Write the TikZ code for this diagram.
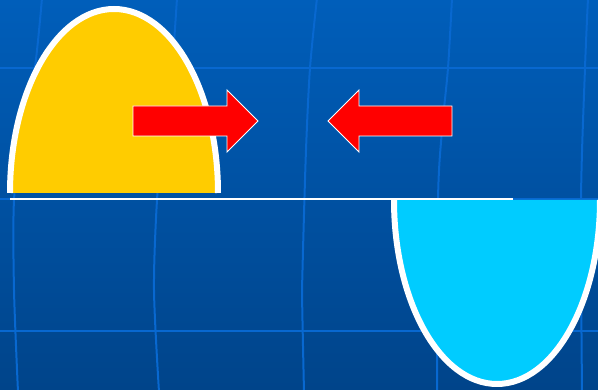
\documentclass[tikz,border=0pt]{standalone}
\usetikzlibrary{shadings}
\definecolor{bgtop}{RGB}{0,94,186}
\definecolor{bgbot}{RGB}{0,68,138}
\definecolor{gridc}{RGB}{8,104,208}
\definecolor{yel}{RGB}{255,204,0}
\definecolor{cya}{RGB}{0,204,255}
\definecolor{arr}{RGB}{255,0,0}
\tikzset{
  gridline/.style={draw=gridc, line width=2pt},
  hgridline/.style={draw=gridc, line width=2.6pt},
  rim/.style={draw=white, line width=6pt},
  arrowshape/.style={fill=arr, draw=white, line width=0.9pt, line join=miter},
  baseline/.style={draw=white, line width=1.4pt}
}
\begin{document}
\begin{tikzpicture}[x=1pt,y=1pt]
\useasboundingbox (0,0) rectangle (598,390);
\clip (0,0) rectangle (598,390);
% background
\shade[top color=bgtop, bottom color=bgbot] (0,0) rectangle (598,390);
% grid
\draw[hgridline] (0,322) -- (598,322);
\draw[hgridline] (0,191) -- (598,191);
\draw[hgridline] (0,59) -- (598,59);
\draw[gridline] plot[smooth] coordinates {(42,392) (35,323) (22,250) (14,190) (14,100) (18,-2)};
\draw[gridline] plot[smooth] coordinates {(177,392) (172,323) (163,250) (157,190) (154,100) (159,-2)};
\draw[gridline] plot[smooth] coordinates {(317,392) (310,322) (306,240) (303,140) (302,100) (304,-2)};
\draw[gridline] plot[smooth] coordinates {(452,392) (448,322) (442,260) (438,190) (437,-2)};
\draw[gridline] plot[smooth] coordinates {(588,392) (585,322) (581,190) (582,-2)};
% yellow dome
\fill[yel] (10,197) arc[start angle=180, end angle=0, x radius=104, y radius=184] -- cycle;
\draw[rim] (10,197) arc[start angle=180, end angle=0, x radius=104, y radius=184];
% cyan bowl
\fill[cya] (394,190) arc[start angle=180, end angle=360, x radius=103, y radius=184] -- cycle;
\draw[rim] (394,190) arc[start angle=180, end angle=360, x radius=103, y radius=184];
% base line
\coordinate (l0) at (10,191);
\coordinate (l1) at (513,191);
\draw[baseline] (l0) -- (l1);
% arrows
\draw[arrowshape] (133,284) -- (227,284) -- (227,300) -- (258,269) -- (227,238) -- (227,254) -- (133,254) -- cycle;
\draw[arrowshape] (452,284) -- (359,284) -- (359,300) -- (328,269) -- (359,238) -- (359,254) -- (452,254) -- cycle;
\end{tikzpicture}
\end{document}
